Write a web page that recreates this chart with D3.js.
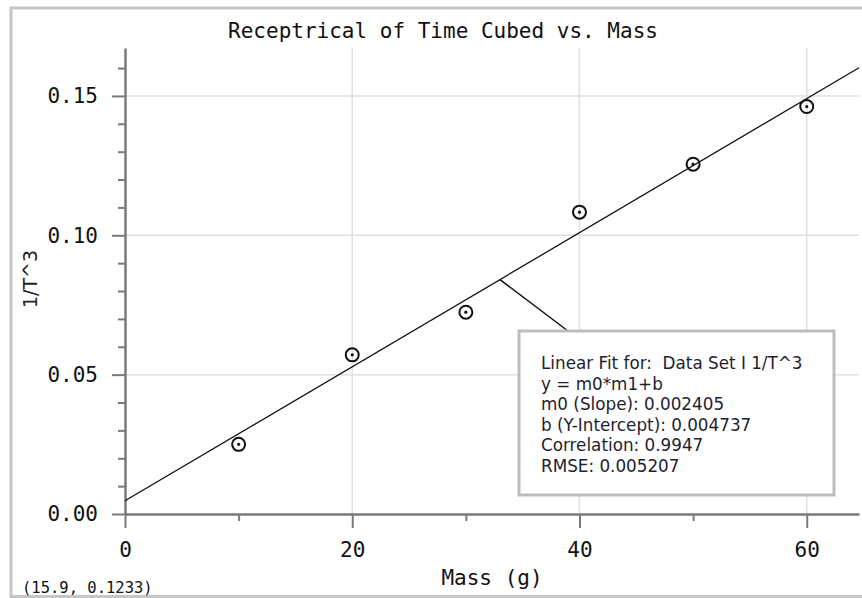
<!DOCTYPE html>
<html>
<head>
<meta charset="utf-8">
<script src="https://cdn.jsdelivr.net/npm/d3@7"></script>
<style>
  body { margin: 0; background: #fff; }
  svg { display: block; }
  .mono { font-family: "DejaVu Sans Mono", monospace; fill: #111; }
  .axis path, .axis line { stroke: #7a7a7a; }
  .axis text { font-family: "DejaVu Sans Mono", monospace; font-size: 21px; fill: #111; }
  .grid line { stroke: #e0e0e0; stroke-width: 1.5; }
  .fit text { font-family: "DejaVu Sans", sans-serif; font-size: 16.8px; fill: #1e1e30; }
</style>
</head>
<body>
<div id="chart"></div>
<script>
var width = 862;
var height = 598;

// data
var mass = [10, 20, 30, 40, 50, 60];
var invT3 = [0.0250, 0.0571, 0.0724, 0.1083, 0.1255, 0.1462];

var xTicks = [0, 20, 40, 60];
var xMinor = [10, 30, 50];
var yTicks = [0, 0.05, 0.10, 0.15];
var yMinor = [0.01, 0.02, 0.03, 0.04, 0.06, 0.07, 0.08, 0.09, 0.11, 0.12, 0.13, 0.14, 0.16];

var slope = 0.002405;
var intercept = 0.004737;
var fitLines = [
    "Linear Fit for:  Data Set I 1/T^3",
    "y = m0*m1+b",
    "m0 (Slope): 0.002405",
    "b (Y-Intercept): 0.004737",
    "Correlation: 0.9947",
    "RMSE: 0.005207"
];
var leaderAt = 33; // where the callout touches the fit line (mass)

var xScale = d3.scaleLinear().domain([0, 64.6]).range([125, 859]);
var yScale = d3.scaleLinear().domain([0, 0.1672]).range([514, 48]);

var svg = d3.select("#chart")
    .append("svg")
    .attr("width", width)
    .attr("height", height);

// outer frame
svg.append("rect")
    .attr("x", 11).attr("y", 8)
    .attr("width", 900).attr("height", 588.5)
    .attr("fill", "none")
    .attr("stroke", "#c6c6c6")
    .attr("stroke-width", 3);

// grid
var grid = svg.append("g").attr("class", "grid");
grid.selectAll(".gx")
    .data(xTicks.slice(1))
    .enter().append("line")
    .attr("x1", function(d) { return xScale(d); })
    .attr("x2", function(d) { return xScale(d); })
    .attr("y1", yScale.range()[1])
    .attr("y2", yScale.range()[0]);
grid.selectAll(".gy")
    .data(yTicks.slice(1))
    .enter().append("line")
    .attr("x1", xScale.range()[0])
    .attr("x2", xScale.range()[1])
    .attr("y1", function(d) { return yScale(d); })
    .attr("y2", function(d) { return yScale(d); });

// minor ticks
svg.append("g")
    .attr("class", "axis")
    .attr("transform", "translate(125,0)")
    .call(d3.axisLeft(yScale).tickValues(yMinor).tickSize(7).tickSizeOuter(0).tickFormat(""))
    .call(function(g) { g.select(".domain").remove(); g.selectAll("line").attr("stroke-width", 2); });

svg.append("g")
    .attr("class", "axis")
    .attr("transform", "translate(0,514)")
    .call(d3.axisBottom(xScale).tickValues(xMinor).tickSize(7).tickSizeOuter(0).tickFormat(""))
    .call(function(g) { g.select(".domain").remove(); g.selectAll("line").attr("stroke-width", 2); });

// main axes
svg.append("g")
    .attr("class", "axis")
    .attr("transform", "translate(125,0)")
    .call(d3.axisLeft(yScale).tickValues(yTicks).tickSize(13).tickSizeOuter(0).tickPadding(14).tickFormat(d3.format(".2f")))
    .call(function(g) {
        g.select(".domain").attr("stroke-width", 2.5);
        g.selectAll("line").attr("stroke-width", 2);
    });

svg.append("g")
    .attr("class", "axis")
    .attr("transform", "translate(0,514)")
    .call(d3.axisBottom(xScale).tickValues(xTicks).tickSize(14).tickSizeOuter(0).tickPadding(14).tickFormat(d3.format("d")))
    .call(function(g) {
        g.select(".domain").attr("stroke-width", 2.5);
        g.selectAll("line").attr("stroke-width", 2);
    });

// fit line
var xd = xScale.domain();
svg.append("line")
    .attr("x1", xScale(xd[0]))
    .attr("y1", yScale(slope * xd[0] + intercept))
    .attr("x2", xScale(xd[1]))
    .attr("y2", yScale(slope * xd[1] + intercept))
    .attr("stroke", "#111")
    .attr("stroke-width", 1.3);

// points
var pts = svg.selectAll(".pt")
    .data(mass)
    .enter().append("g")
    .attr("transform", function(d, i) { return "translate(" + xScale(d) + "," + yScale(invT3[i]) + ")"; });
pts.append("circle")
    .attr("r", 6.5)
    .attr("fill", "none")
    .attr("stroke", "#111")
    .attr("stroke-width", 2);
pts.append("circle")
    .attr("r", 1.6)
    .attr("fill", "#111");

// callout
var box = { x: 519, y: 331, w: 315, h: 164 };
svg.append("line")
    .attr("x1", xScale(leaderAt))
    .attr("y1", yScale(slope * leaderAt + intercept))
    .attr("x2", 568)
    .attr("y2", box.y)
    .attr("stroke", "#111")
    .attr("stroke-width", 1.5);

var fit = svg.append("g").attr("class", "fit");
fit.append("rect")
    .attr("x", box.x).attr("y", box.y)
    .attr("width", box.w).attr("height", box.h)
    .attr("fill", "#fff")
    .attr("stroke", "#bdbdbd")
    .attr("stroke-width", 3);
fit.selectAll("text")
    .data(fitLines)
    .enter().append("text")
    .attr("x", 541)
    .attr("y", function(d, i) { return 369 + i * 20.6; })
    .style("white-space", "pre")
    .text(function(d) { return d; });

// titles
svg.append("text")
    .attr("class", "mono")
    .attr("x", 443).attr("y", 31)
    .attr("dy", "0.35em")
    .attr("text-anchor", "middle")
    .style("font-size", "21px")
    .text("Receptrical of Time Cubed vs. Mass");

svg.append("text")
    .attr("class", "mono")
    .attr("x", 492).attr("y", 578)
    .attr("dy", "0.35em")
    .attr("text-anchor", "middle")
    .style("font-size", "21px")
    .text("Mass (g)");

svg.append("text")
    .attr("transform", "translate(30,279) rotate(-90)")
    .attr("dy", "0.35em")
    .attr("text-anchor", "middle")
    .style("font-family", "DejaVu Sans, sans-serif")
    .style("font-size", "19px")
    .style("fill", "#222")
    .text("1/T^3");

svg.append("text")
    .attr("class", "mono")
    .attr("x", 22).attr("y", 588)
    .attr("dy", "0.35em")
    .style("font-size", "15.5px")
    .text("(15.9, 0.1233)");
</script>
</body>
</html>
